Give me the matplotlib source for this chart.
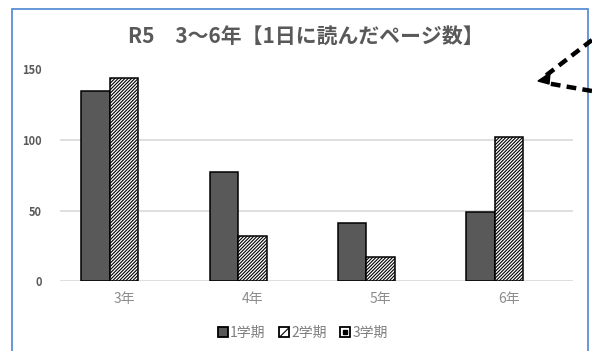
import matplotlib
matplotlib.use("Agg")
import matplotlib.pyplot as plt
import numpy as np
from matplotlib.patches import Patch, Rectangle, Polygon
from matplotlib.lines import Line2D
from matplotlib.legend_handler import HandlerTuple

plt.rcParams['font.family'] = ['Noto Sans CJK JP', 'DejaVu Sans']
plt.rcParams['hatch.linewidth'] = 0.8

# pages read per day, by grade and term (3rd term not yet recorded)
grades = ['3年', '4年', '5年', '6年']
term1 = [135, 77, 41, 49]
term2 = [144, 32, 17, 102]
term3 = []
term_labels = ['1学期', '2学期', '3学期']
yticks = [0, 50, 100, 150]

W, H = 592, 351
fig = plt.figure(figsize=(W / 100, H / 100), dpi=100)
fig.patch.set_facecolor('white')

# axes box in pixel terms: x 60..573, y(0)=281, y(150)=69.5
ax = fig.add_axes([60 / W, (H - 281) / H, (573 - 60) / W, (281 - 69.5) / H])

x = np.arange(len(grades))
bw = 0.222
# three slots per grade; the third slot stays empty
ax.bar(x - bw, term1, bw, color='#595959', edgecolor='black', linewidth=1.1, zorder=3)
ax.bar(x, term2, bw, color='white', edgecolor='black', linewidth=1.1,
       hatch='//////////', zorder=3)
if term3:
    ax.bar(x + bw, term3, bw, color='white', edgecolor='black', linewidth=1.1, hatch='oo', zorder=3)

ax.set_xlim(-0.5, len(grades) - 0.5)
ax.set_ylim(0, 150)
ax.set_yticks(yticks)
ax.set_yticklabels([str(v) for v in yticks], fontsize=8, fontweight='bold', color='#595959')
ax.set_xticks(x)
ax.set_xticklabels(grades, fontsize=10, color='#8c8c8c')
ax.tick_params(axis='y', length=0, pad=13)
ax.tick_params(axis='x', length=0, pad=8)
ax.grid(axis='y', color='#d9d9d9', linewidth=1.2, zorder=0)
for s in ax.spines.values():
    s.set_visible(False)
ax.set_facecolor('white')

fig.text(306 / W, 1 - 37 / H, 'R5　3～6年【1日に読んだページ数】', ha='center', va='center',
         fontsize=15, fontweight='bold', color='#595959')

h3 = (Line2D([], [], marker='s', ms=7, mfc='white', mec='black', mew=1.3, ls=''),
      Line2D([], [], marker='s', ms=2.5, color='black', ls=''))
handles = [
    Patch(facecolor='#595959', edgecolor='black', linewidth=1.3),
    Patch(facecolor='white', edgecolor='black', linewidth=1.3, hatch='//'),
    h3,
]
fig.legend(handles, term_labels, loc='center', bbox_to_anchor=(303 / W, 1 - 333 / H), ncol=3,
           frameon=False, fontsize=10, labelcolor='#7f7f7f', handlelength=0.7,
           handleheight=0.7, handletextpad=0.15, columnspacing=1.0,
           handler_map={tuple: HandlerTuple(ndivide=1)})

# chart frame
fig.add_artist(Rectangle((11.5 / W, -0.05), (588 - 11.5) / W, 1.05 - 8.5 / H,
                         transform=fig.transFigure, fill=False, edgecolor='#5b8fd6', linewidth=1.3))

# dashed callout arrow on the right edge
tip = (538, 81)
for p0, p1 in [((592, 40), (544, 77)), ((592, 91), (546, 83))]:
    fig.add_artist(Line2D([p0[0] / W, p1[0] / W], [1 - p0[1] / H, 1 - p1[1] / H],
                          transform=fig.transFigure, color='black', linewidth=3.2,
                          linestyle=(0, (2.2, 1.4)), solid_capstyle='butt'))
fig.add_artist(Polygon([(tip[0] / W, 1 - tip[1] / H), ((tip[0] + 12) / W, 1 - (tip[1] - 8) / H),
                        ((tip[0] + 11) / W, 1 - (tip[1] + 3) / H)],
                       closed=True, transform=fig.transFigure, color='black'))

fig.savefig('out.png', dpi=100)
